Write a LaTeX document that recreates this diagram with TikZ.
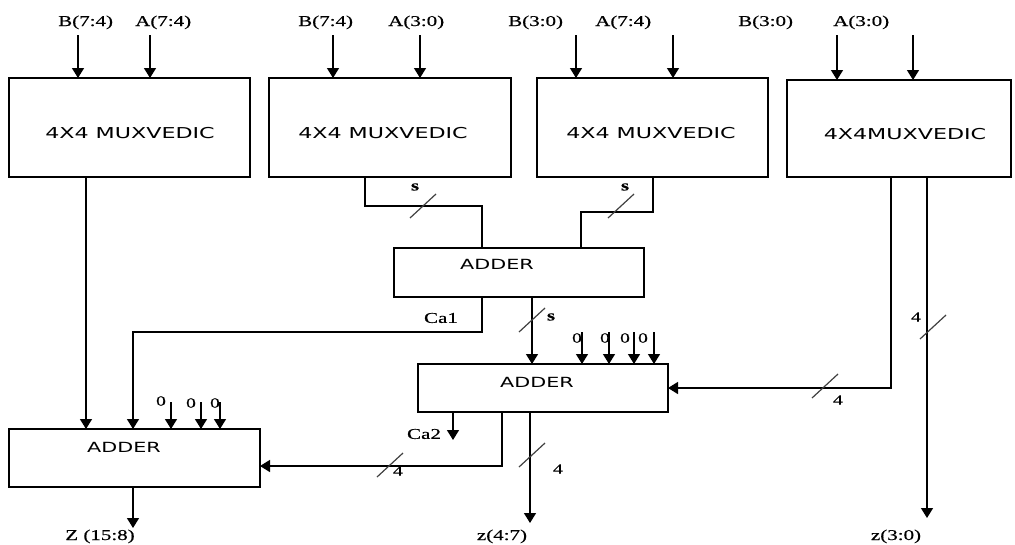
\documentclass[tikz,border=0pt]{standalone}
\usepackage{fontspec}
\setmainfont{Liberation Serif}[FakeStretch=1.4,FakeBold=0.6]
\newfontfamily\boxfont{DejaVu Sans}[FakeStretch=1.48]
\usetikzlibrary{arrows.meta}
\tikzset{
  blk/.style={draw,line width=1.6pt,anchor=north west,inner sep=0pt,outer sep=0pt},
  blktext/.style={font=\boxfont\fontsize{15}{18}\selectfont,inner sep=0pt},
  addtext/.style={font=\boxfont\fontsize{14}{17}\selectfont,inner sep=0pt},
  sigtext/.style={font=\fontsize{15}{18}\selectfont,inner sep=0pt},
  smalltext/.style={font=\fontsize{14}{16}\selectfont,inner sep=0pt},
  wire/.style={line width=1.4pt},
  sig/.style={wire,-{Triangle[width=12pt,length=10pt]}},
  busmark/.pic={\draw[line width=1.2pt,black!75] (-13,12) -- (13,-12);}
}
\begin{document}
\begin{tikzpicture}[x=1pt,y=-1pt,line join=miter]
  \useasboundingbox (0,0) rectangle (1015,544);
  \node[blk,minimum width=241pt,minimum height=99pt] (mux1) at (9,78) {};
  \node[blk,minimum width=242pt,minimum height=99pt] (mux2) at (269,78) {};
  \node[blk,minimum width=231pt,minimum height=99pt] (mux3) at (537,78) {};
  \node[blk,minimum width=224pt,minimum height=97pt] (mux4) at (787,80) {};
  \node[blk,minimum width=250pt,minimum height=49pt] (add1) at (394,248) {};
  \node[blk,minimum width=250pt,minimum height=48pt] (add2) at (418,364) {};
  \node[blk,minimum width=251pt,minimum height=58pt] (add3) at (9,429) {};
  \node[blktext] (mux1t) at (130,133) {4X4 MUXVEDIC};
  \node[blktext] (mux2t) at (383,133) {4X4 MUXVEDIC};
  \node[blktext] (mux3t) at (651,133) {4X4 MUXVEDIC};
  \node[blktext] (mux4t) at (905,134) {4X4MUXVEDIC};
  \node[addtext] (add1t) at (497,264) {ADDER};
  \node[addtext] (add2t) at (537,382) {ADDER};
  \node[addtext] (add3t) at (124,447) {ADDER};
  \foreach \txt/\lx/\b/\ax/\len/\n in {B(7:4)/58/mux1/69/43/1,A(7:4)/135/mux1/141/43/2,
      B(7:4)/298/mux2/64/43/3,A(3:0)/388/mux2/151/43/4,B(3:0)/508/mux3/39/43/5,
      A(7:4)/595/mux3/136/43/6,B(3:0)/738/mux4/50/45/7,A(3:0)/833/mux4/126/45/8} {
    \node[sigtext,anchor=base west] (in\n) at (\lx,26) {\txt};
    \draw[sig] ([xshift=\ax pt,yshift=\len pt]\b.north west) -- ([xshift=\ax pt]\b.north west);
  }
  \coordinate (m1o) at (86,177);
  \coordinate (m2o) at (365,177);
  \coordinate (m3o) at (653,177);
  \coordinate (m4o1) at (891,177);
  \coordinate (m4o2) at (927,177);
  \coordinate (a1i1) at (482,248);
  \coordinate (a1i2) at (581,248);
  \coordinate (a1c) at (482,297);
  \coordinate (a1s) at (532,297);
  \coordinate (a2c) at (453,412);
  \coordinate (a2o1) at (502,412);
  \coordinate (a2o2) at (530,412);
  \coordinate (a3i2) at (133,429);
  \coordinate (a3i3) at (260,466);
  \coordinate (a3o) at (133,487);
  \draw[sig] (m1o) -- (m1o |- add3.north);
  \draw[wire] (m2o) -- ++(0,29) -| (a1i1);
  \draw[wire] (m3o) -- ++(0,35) -| (a1i2);
  \pic at (423,206) {busmark};
  \pic at (621,206) {busmark};
  \node[smalltext,font=\bfseries\fontsize{15}{18}\selectfont] (s1) at (415,187) {s};
  \node[smalltext,font=\bfseries\fontsize{15}{18}\selectfont] (s2) at (625,187) {s};
  \draw[sig] (a1c) -- ++(0,35) -| (a3i2);
  \node[sigtext] (ca1) at (441,318) {Ca1};
  \draw[sig] (a1s) -- (a1s |- add2.north);
  \pic at (532,320) {busmark};
  \node[smalltext,font=\bfseries\fontsize{15}{18}\selectfont] (s3) at (551,317) {s};
  \foreach \ax/\lx/\n in {164/577/1,191/605/2,216/625/3,236/643/4} {
    \node[smalltext] (zb\n) at (\lx,338) {0};
    \draw[sig] ([xshift=\ax pt,yshift=32pt]add2.north west) -- ([xshift=\ax pt]add2.north west);
  }
  \foreach \ax/\lx/\ly/\n in {162/161/401/1,192/191/403/2,211/215/403/3} {
    \node[smalltext] (za\n) at (\lx,\ly) {0};
    \draw[sig] ([xshift=\ax pt,yshift=27pt]add3.north west) -- ([xshift=\ax pt]add3.north west);
  }
  \draw[sig] (m4o1) |- (add2.east);
  \pic at (825,386) {busmark};
  \node[smalltext] (w1) at (838,400) {4};
  \draw[sig] (m4o2) -- ++(0,341);
  \pic at (933,327) {busmark};
  \node[smalltext] (w2) at (916,317) {4};
  \node[sigtext,anchor=base] (zlo) at (896,540) {z(3:0)};
  \draw[sig] (a2c) -- ++(0,28);
  \node[sigtext] (ca2) at (424,434) {Ca2};
  \draw[sig] (a2o1) |- (a3i3);
  \pic at (390,465) {busmark};
  \node[smalltext] (w3) at (398,471) {4};
  \draw[sig] (a2o2) -- ++(0,111);
  \pic at (532,455) {busmark};
  \node[smalltext] (w4) at (558,469) {4};
  \node[sigtext,anchor=base] (zmid) at (502,540) {z(4:7)};
  \draw[sig] (a3o) -- ++(0,41);
  \node[sigtext,anchor=base] (zhi) at (100,540) {Z (15:8)};
\end{tikzpicture}
\end{document}
